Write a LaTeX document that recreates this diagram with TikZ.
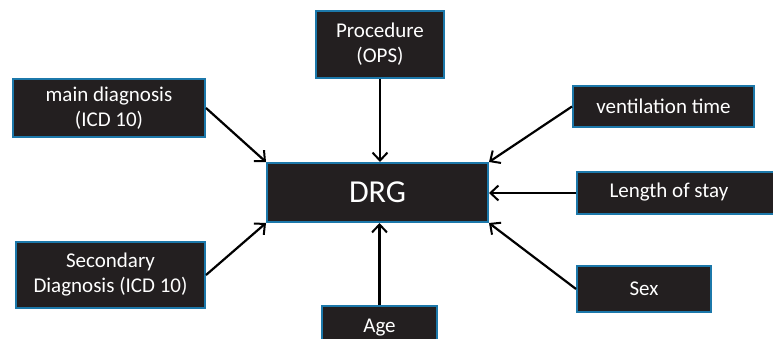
\documentclass[tikz,border=0pt]{standalone}
\usepackage{fontspec}
\setmainfont{Carlito}
\usetikzlibrary{arrows.meta}
\definecolor{boxfill}{HTML}{231F20}
\definecolor{boxline}{HTML}{1C78AA}
\tikzset{
  box/.style={draw=boxline, line width=2pt, fill=boxfill, text=white, inner sep=0pt,
    align=center, font=\fontsize{21}{25}\selectfont},
  arr/.style={draw=black, line width=2.2pt, -{Straight Barb[length=8pt,width=15pt,line width=2pt]}}
}
\begin{document}
\begin{tikzpicture}[x=1pt,y=-1pt]
\useasboundingbox (0,0) rectangle (773,339);
\begin{scope}
\clip (0,0) rectangle (773,339);
\node[box, minimum width=128pt, minimum height=67pt] (proc) at (380,44.5) {Procedure\\(OPS)};
\node[box, minimum width=192pt, minimum height=58pt] (main) at (109,108) {main diagnosis\\(ICD 10)};
\node[box, minimum width=221pt, minimum height=59pt, font=\fontsize{32}{36}\selectfont] (drg) at (377.5,192.5) {DRG};
\node[box, minimum width=181pt, minimum height=41pt] (vent) at (663.5,106.5) {ventilation time};
\node[box, minimum width=213pt, minimum height=42pt] (len) at (683.5,193) {};
\node[text=white, font=\fontsize{21}{25}\selectfont] (lentext) at (669,192) {Length of stay};
\node[box, minimum width=134pt, minimum height=46pt] (sex) at (644,289) {Sex};
\node[box, minimum width=189pt, minimum height=66pt] (sec) at (110.5,275) {Secondary\\Diagnosis (ICD 10)};
\node[box, minimum width=115pt, minimum height=44pt] (age) at (379.5,328) {};
\node[text=white, font=\fontsize{21}{25}\selectfont] (agetext) at (379.5,328) {Age};
\end{scope}
\draw[arr] (proc.south) -- (proc.south |- drg.north);
\draw[arr] (main.east) -- (drg.north west);
\draw[arr] (vent.west) -- (drg.north east);
\draw[arr] (len.west) -- (len.west -| drg.east);
\draw[arr] (sex.west) -- (drg.south east);
\draw[arr] (sec.east) -- (drg.south west);
\draw[arr] (age.north) -- (age.north |- drg.south);
\end{tikzpicture}
\end{document}
